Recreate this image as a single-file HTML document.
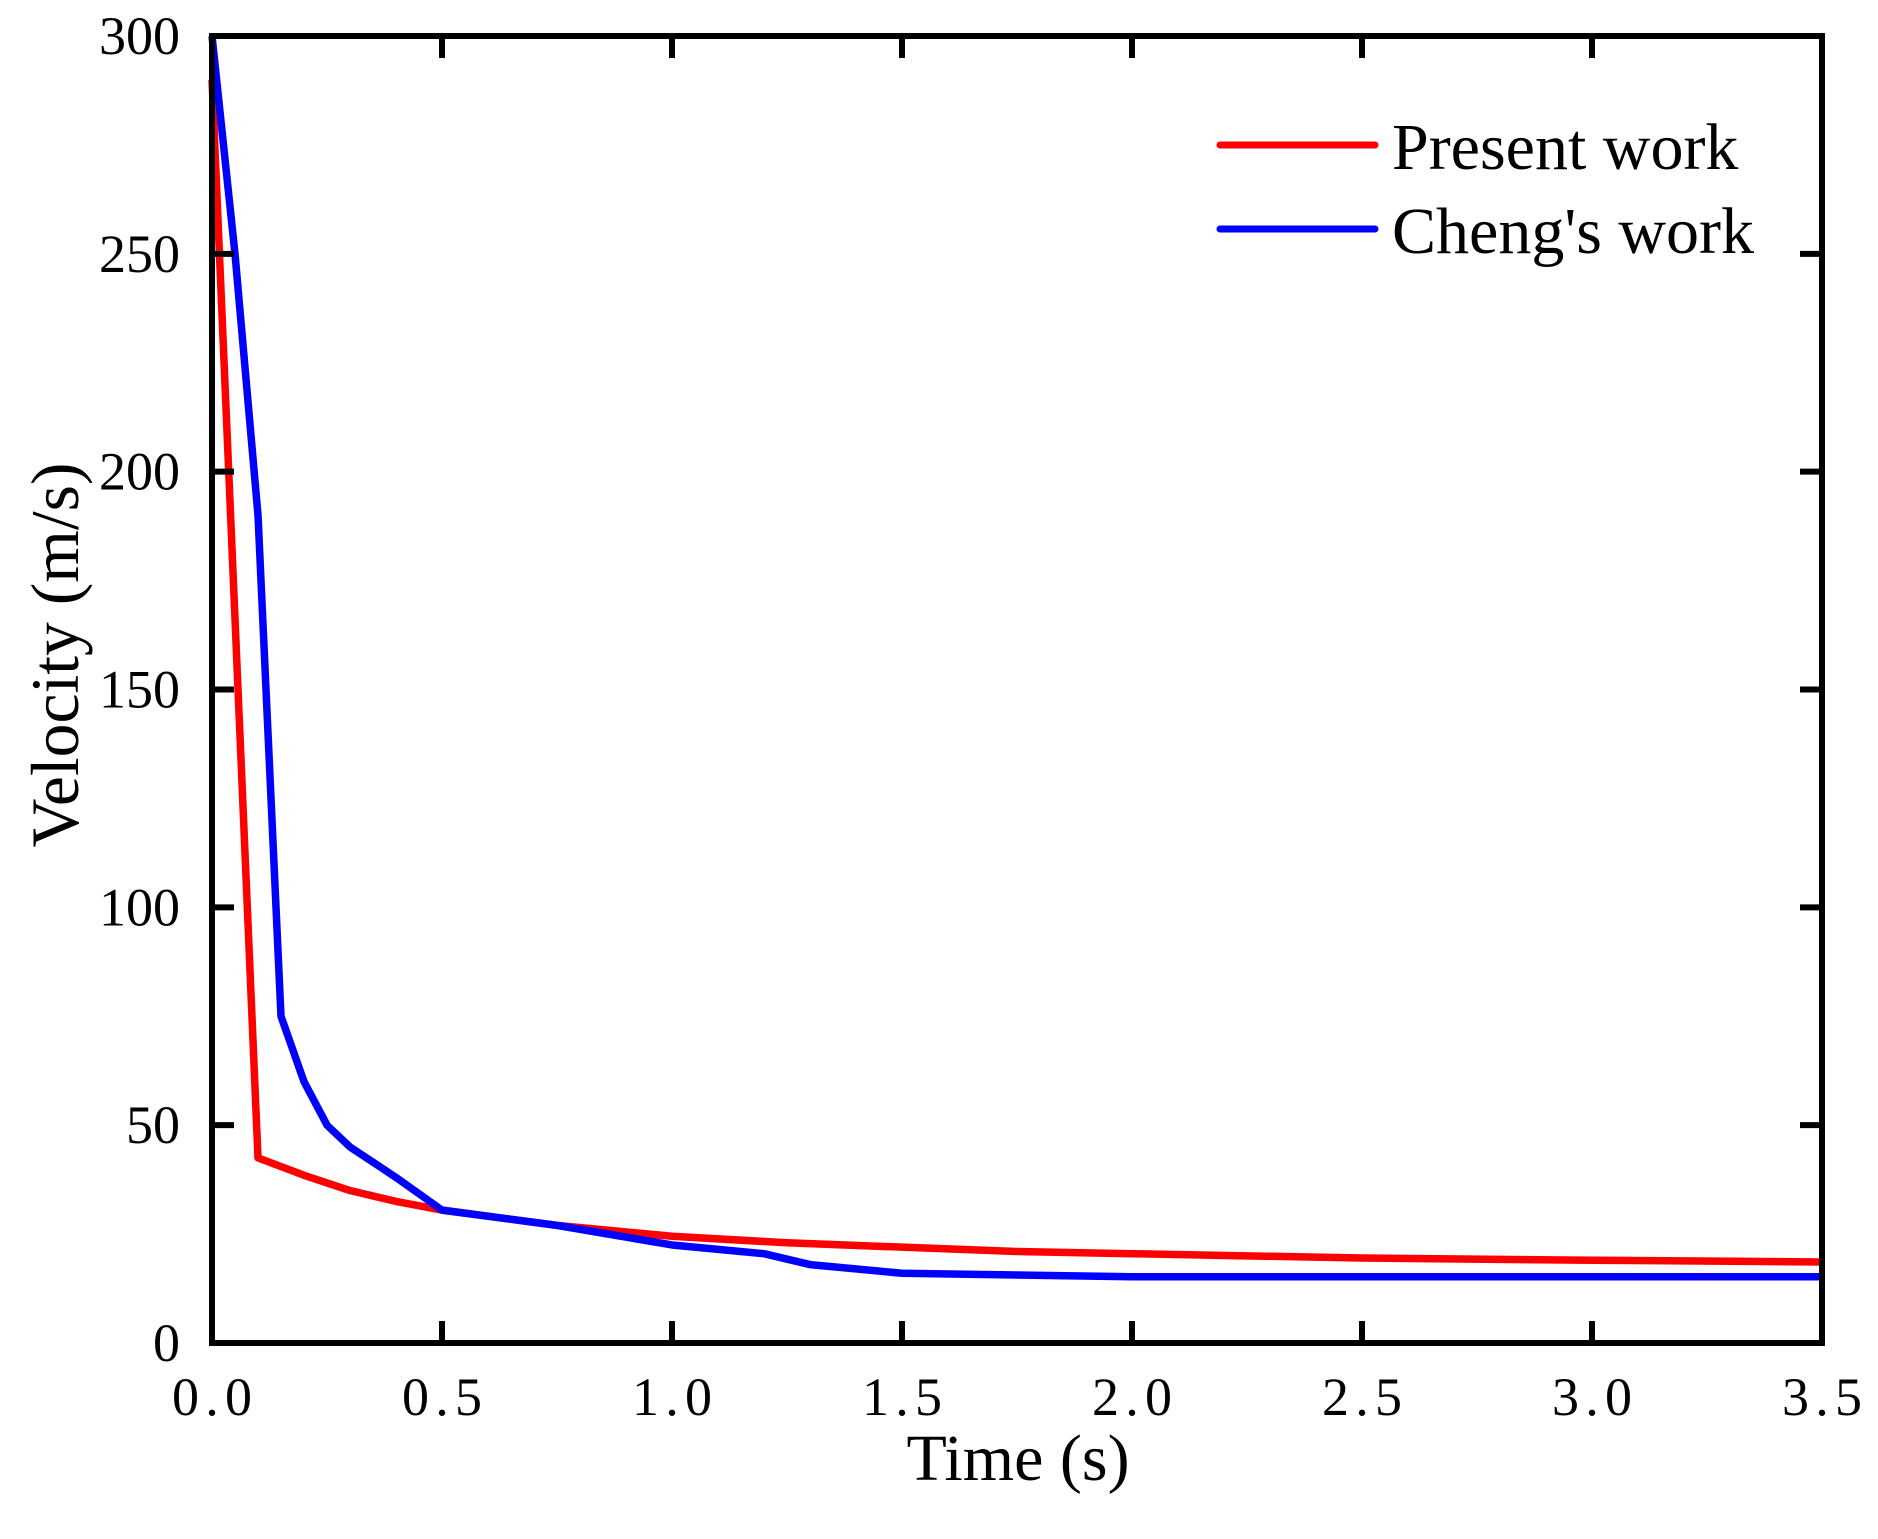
<!DOCTYPE html>
<html><head><meta charset="utf-8"><style>
html,body{margin:0;padding:0;background:#fff;}
svg{display:block;font-family:"Liberation Serif",serif;}
</style></head><body>
<svg id="chart" width="1878" height="1539" viewBox="0 0 1878 1539" xmlns="http://www.w3.org/2000/svg">
<rect width="1878" height="1539" fill="#fff"/>
<g id="series"></g>
<g id="axes"></g>
<text x="0" y="0" font-size="68" textLength="385" lengthAdjust="spacingAndGlyphs" text-anchor="middle" transform="translate(78,655) rotate(-90)">Velocity (m/s)</text>
<text x="1018" y="1480" font-size="66" text-anchor="middle">Time (s)</text>
<g>
<line x1="1220" y1="145" x2="1375" y2="145" stroke="#ff0000" stroke-width="7" stroke-linecap="round"/>
<text x="1392" y="169" font-size="66">Present work</text>
<line x1="1220" y1="229" x2="1375" y2="229" stroke="#0000ff" stroke-width="7" stroke-linecap="round"/>
<text x="1392" y="253" font-size="66">Cheng's work</text>
</g>
</svg>
<script>
const presentT = [0, 0.1, 0.2, 0.3, 0.4, 0.5, 0.75, 1.0, 1.25, 1.5, 1.75, 2.0, 2.5, 3.0, 3.5];
const presentV = [290, 42.5, 38.5, 35, 32.5, 30.5, 27, 24.5, 23, 22, 21, 20.5, 19.5, 19, 18.6];
const chengT = [0, 0.05, 0.1, 0.15, 0.2, 0.25, 0.3, 0.4, 0.5, 0.75, 1.0, 1.2, 1.3, 1.5, 2.0, 3.5];
const chengV = [300, 250, 190, 75, 60, 50, 45, 38, 30.5, 27, 22.5, 20.5, 18, 16, 15.2, 15.2];
const xTicks = [0, 0.5, 1.0, 1.5, 2.0, 2.5, 3.0, 3.5];
const xTickLabels = ["0.0", "0.5", "1.0", "1.5", "2.0", "2.5", "3.0", "3.5"];
const yTicks = [0, 50, 100, 150, 200, 250, 300];
const yTickLabels = ["0", "50", "100", "150", "200", "250", "300"];

const X0 = 212, X1 = 1822, Y0 = 1343, Y1 = 36;
function sx(t){ return X0 + (t - 0) / 3.5 * (X1 - X0); }
function sy(v){ return Y0 - (v - 0) / 300 * (Y0 - Y1); }
const NS = "http://www.w3.org/2000/svg";
const series = document.getElementById('series');
const axes = document.getElementById('axes');

function drawLine(ts, vs, color, name){
  const p = document.createElementNS(NS, 'polyline');
  
  
  p.setAttribute('points', ts.map((t,i)=>sx(t)+','+sy(vs[i])).join(' '));
  p.setAttribute('fill', 'none');
  p.setAttribute('stroke', color);
  p.setAttribute('stroke-width', '7.5');
  p.setAttribute('stroke-linejoin', 'round');
  series.appendChild(p);
}
drawLine(presentT, presentV, '#ff0000', 'present-work-line');
drawLine(chengT, chengV, '#0000ff', 'cheng-work-line');

const frame = document.createElementNS(NS, 'rect');


frame.setAttribute('x', X0); frame.setAttribute('y', Y1);
frame.setAttribute('width', X1 - X0); frame.setAttribute('height', Y0 - Y1);
frame.setAttribute('fill', 'none'); frame.setAttribute('stroke', '#000'); frame.setAttribute('stroke-width', '6');
axes.appendChild(frame);

function tick(x1,y1,x2,y2,name){
  const l = document.createElementNS(NS, 'line');
  
  
  l.setAttribute('x1', x1); l.setAttribute('y1', y1); l.setAttribute('x2', x2); l.setAttribute('y2', y2);
  l.setAttribute('stroke', '#000'); l.setAttribute('stroke-width', '6');
  axes.appendChild(l);
}
function label(x,y,str,anchor,len,name){
  const t = document.createElementNS(NS, 'text');
  
  
  t.setAttribute('x', x); t.setAttribute('y', y);
  t.setAttribute('font-size', '54');
  t.setAttribute('text-anchor', anchor);
  t.setAttribute('textLength', len);
  t.setAttribute('lengthAdjust', 'spacing');
  t.textContent = str;
  axes.appendChild(t);
}
xTicks.forEach((t,i)=>{
  const x = sx(t);
  if (i>0 && i<xTicks.length-1){
    tick(x, Y0, x, Y0-22, 'x-tick');
    tick(x, Y1, x, Y1+22, 'x-tick-top');
  }
  label(x, 1415, xTickLabels[i], 'middle', 80, 'x-tick-label');
});
yTicks.forEach((v,i)=>{
  const y = sy(v);
  if (i>0 && i<yTicks.length-1){
    tick(X0, y, X0+22, y, 'y-tick');
    tick(X1, y, X1-22, y, 'y-tick-right');
  }
  const s = yTickLabels[i];
  label(180, y+18, s, 'end', s.length*27, 'y-tick-label');
});
</script>
</body></html>
